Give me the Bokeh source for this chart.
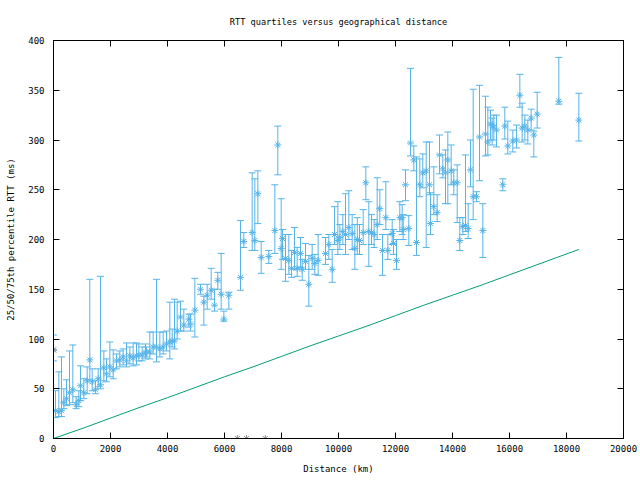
from bokeh.plotting import figure
from bokeh.models import Range1d, LinearAxis, FixedTicker, ColumnDataSource
from bokeh.embed import file_html
from bokeh.resources import INLINE

# distance (km), 25th, 50th, 75th percentile RTT (ms)
dist = [0, 70, 187, 280, 363, 456, 562, 678, 795, 889, 947, 1064, 1181, 1275, 1357, 1474, 1568, 1649,
        1766, 1860, 1977, 2094, 2211, 2327, 2444, 2561, 2678, 2795, 2912, 2994, 3111, 3228, 3263, 3380,
        3497, 3614, 3731, 3848, 3965, 4082, 4164, 4246, 4339, 4456, 4573, 4749, 4807, 4959, 5158, 5275,
        5392, 5532, 5649, 5766, 5883, 5977, 6152, 6561, 6678, 6971, 7064, 7170, 7287, 7555, 7766, 7871,
        7988, 8035, 8140, 8257, 8351, 8456, 8550, 8667, 8725, 8842, 8959, 9076, 9169, 9286, 9544, 9661,
        9778, 9860, 9977, 10047, 10152, 10246, 10363, 10480, 10573, 10660, 10737, 10866, 10959, 11064,
        11158, 11250, 11357, 11450, 11544, 11661, 11731, 11884, 11930, 12035, 12151, 12234, 12270, 12351,
        12467, 12526, 12643, 12737, 12853, 12958, 13077, 13193, 13228, 13344, 13462, 13544, 13660, 13754,
        13836, 13954, 14046, 14165, 14256, 14362, 14456, 14550, 14630, 14725, 14842, 14947, 15064, 15158,
        15240, 15333, 15392, 15450, 15544, 15765, 15835, 15940, 16116, 16245, 16363, 16444, 16538, 16643,
        16760, 16853, 16971, 17731, 18433]
q50 = [89, 28, 27, 28, 36, 40, 46, 49, 34, 38, 53, 46, 58, 79, 57, 49, 60, 54,
       71, 65, 72, 69, 78, 79, 82, 78, 83, 81, 83, 84, 84, 86, 87, 87,
       92, 92, 90, 92, 95, 97, 98, 98, 108, 122, 114, 120, 115, 129, 150, 137,
       144, 149, 134, 159, 145, 120, 144, 162, 198, 207, 199, 246, 182, 183, 209, 295,
       191, 201, 181, 179, 171, 187, 171, 186, 170, 178, 155, 181, 176, 179, 186, 195,
       170, 205, 199, 202, 208, 205, 212, 206, 191, 200, 199, 207, 257, 208,
       207, 205, 215, 231, 189, 222, 189, 206, 196, 179, 222, 222, 210, 255,
       211, 297, 280, 197, 255, 267, 269, 255, 216, 233, 227, 285, 271, 267,
       280, 269, 257, 257, 199, 213, 214, 211, 270, 243, 243, 303, 209, 306,
       298, 316, 315, 313, 310, 255, 314, 294, 299, 300, 345, 312, 314, 310,
       322, 305, 326, 339, 320]
q25 = [78, 21, 22, 22, 30, 33, 34, 36, 30, 32, 38, 40, 45, 59, 48, 45, 52, 50,
       58, 57, 62, 60, 70, 72, 74, 72, 75, 73, 74, 78, 78, 80, 82, 80,
       85, 77, 82, 85, 88, 80, 92, 90, 100, 108, 108, 112, 108, 102, 145, 114,
       130, 140, 128, 150, 130, 118, 130, 149, 192, 189, 189, 216, 166, 176, 186, 265,
       170, 180, 158, 165, 162, 170, 163, 172, 159, 170, 133, 170, 165, 164, 175, 180,
       157, 195, 185, 190, 195, 185, 200, 190, 170, 185, 185, 195, 240, 173,
       195, 192, 200, 215, 164, 210, 180, 195, 185, 170, 208, 205, 200, 239,
       194, 284, 269, 184, 243, 252, 192, 245, 205, 225, 218, 266, 262, 236,
       236, 255, 245, 217, 189, 205, 208, 201, 253, 220, 238, 259, 182, 284,
       285, 300, 295, 300, 293, 249, 301, 286, 288, 292, 333, 298, 300, 296,
       310, 283, 312, 336, 299]
q75 = [104, 48, 67, 82, 50, 59, 88, 94, 42, 48, 73, 60, 72, 160, 70, 58, 70, 163,
       88, 80, 97, 89, 85, 88, 90, 96, 92, 96, 96, 95, 92, 95, 92, 107,
       107, 160, 107, 107, 108, 137, 110, 140, 137, 138, 130, 125, 125, 161, 155, 143,
       155, 171, 150, 167, 186, 128, 147, 219, 207, 267, 261, 269, 198, 189, 255, 314,
       241, 210, 205, 205, 189, 212, 192, 202, 180, 196, 184, 195, 185, 205, 202, 205,
       190, 233, 238, 215, 225, 246, 249, 225, 215, 222, 215, 230, 273, 238,
       225, 220, 262, 250, 205, 258, 205, 220, 210, 200, 238, 235, 225, 270,
       224, 372, 294, 283, 281, 286, 298, 298, 247, 273, 245, 305, 285, 290,
       308, 295, 270, 275, 222, 222, 285, 236, 300, 351, 248, 355, 236, 344,
       333, 330, 322, 325, 325, 261, 333, 319, 310, 315, 366, 337, 325, 320,
       331, 309, 348, 383, 347]

# points with no spread (grey)
grey_dist = [0, 6450, 6770, 7430]
grey_rtt = [89, 0, 0, 0]

# lower bound line
bound_dist = [0, 1000, 2000, 3000, 4000, 5000, 6000, 7000, 8000, 9000, 10000, 11000, 12000,
              13000, 14000, 15000, 16000, 17000, 18433]
bound_rtt = [0, 10, 20.5, 31, 41, 51.5, 62, 72, 82.5, 93, 103, 113, 123.5, 134, 144, 154, 164.5, 175, 190]

xticks = [0, 2000, 4000, 6000, 8000, 10000, 12000, 14000, 16000, 18000, 20000]
yticks = [0, 50, 100, 150, 200, 250, 300, 350, 400]

FONT = "DejaVu Sans Mono"
BLUE = "#56b4e9"
GREEN = "#009e73"
GREY = "#8c8c8c"

p = figure(width=640, height=480, output_backend="svg", toolbar_location=None,
           x_range=Range1d(0, 20000), y_range=Range1d(0, 400),
           title="RTT quartiles versus geographical distance",
           x_axis_label="Distance (km)", y_axis_label="25/50/75th percentile RTT (ms)")
p.min_border_left = 53
p.min_border_right = 17
p.min_border_top = 40
p.min_border_bottom = 42
p.grid.visible = False
p.outline_line_color = "black"
p.outline_line_width = 1
p.background_fill_color = "white"
p.border_fill_color = "white"

p.title.align = "center"
p.title.text_font = FONT
p.title.text_font_size = "8.6px"
p.title.text_font_style = "normal"
p.title.text_color = "black"
p.title.standoff = 28

for ax, ticks in ((p.xaxis[0], xticks), (p.yaxis[0], yticks)):
    ax.ticker = FixedTicker(ticks=ticks)
    ax.major_tick_in = 6
    ax.major_tick_out = 0
    ax.minor_tick_line_color = None
    ax.major_label_text_font = FONT
    ax.major_label_text_font_size = "9px"
    ax.major_label_text_color = "black"
    ax.axis_label_text_font = FONT
    ax.axis_label_text_font_size = "9px"
    ax.axis_label_text_font_style = "normal"
    ax.axis_label_text_color = "black"
    ax.axis_line_color = "black"
    ax.major_tick_line_color = "black"
p.xaxis[0].major_label_standoff = 6
p.yaxis[0].major_label_standoff = 9
p.xaxis[0].axis_label_standoff = 9
p.yaxis[0].axis_label_standoff = 9

# mirrored ticks
top_ax = LinearAxis(ticker=FixedTicker(ticks=xticks), major_tick_in=6, major_tick_out=0,
                    minor_tick_line_color=None, major_label_overrides={t: "" for t in xticks},
                    major_label_standoff=0)
right_ax = LinearAxis(ticker=FixedTicker(ticks=yticks), major_tick_in=6, major_tick_out=0,
                      minor_tick_line_color=None, major_label_overrides={t: "" for t in yticks},
                      major_label_standoff=0)
p.add_layout(top_ax, "above")
p.add_layout(right_ax, "right")

src = ColumnDataSource(dict(x=dist, lo=q25, mid=q50, hi=q75))
p.segment(x0="x", y0="lo", x1="x", y1="hi", source=src, line_color=BLUE, line_width=1)
p.dash(x="x", y="lo", source=src, size=7, line_color=BLUE, line_width=1)
p.dash(x="x", y="hi", source=src, size=7, line_color=BLUE, line_width=1)
p.scatter(x="x", y="mid", source=src, marker="asterisk", size=7, line_color=BLUE, line_width=1)

p.scatter(grey_dist, grey_rtt, marker="asterisk", size=7, line_color=GREY, line_width=1)
p.line(bound_dist, bound_rtt, line_color=GREEN, line_width=1)

open("out.html", "w").write(file_html(p, INLINE))
